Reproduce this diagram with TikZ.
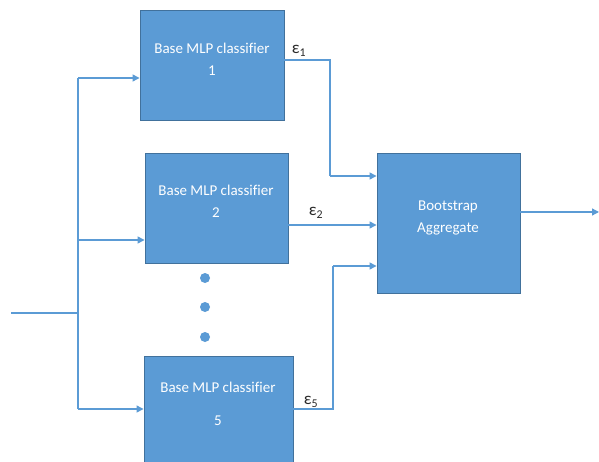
\documentclass[tikz,border=0pt]{standalone}
\usepackage{fontspec}
\setmainfont{Carlito}[Ligatures=NoCommon]
\usetikzlibrary{arrows.meta}
\definecolor{boxfill}{HTML}{5B9BD5}
\definecolor{boxline}{HTML}{41719C}
\definecolor{wire}{HTML}{5B9BD5}
\definecolor{lbl}{HTML}{2A2A2A}
\tikzset{
  mlp/.style={draw=boxline, line width=0.9pt, fill=boxfill, inner sep=0pt},
  boxtext/.style={text=white, font=\fontsize{15}{22}\selectfont, align=center, inner sep=0pt},
  wireline/.style={draw=wire, line width=1.3pt},
  arr/.style={wireline, -{Triangle[length=7pt,width=7pt]}},
  eps/.style={text=lbl, font=\fontsize{17}{20}\selectfont, inner sep=0pt},
  dotmark/.style={circle, fill=boxfill, inner sep=0pt, minimum width=8pt, minimum height=10pt}
}
\begin{document}
\begin{tikzpicture}[x=1pt,y=-1pt]
\useasboundingbox (0,0) rectangle (599,462);
\clip (0,0) rectangle (599,462);
% boxes
\node[mlp, minimum width=144pt, minimum height=110pt] (box1) at (212,65) {};
\node[mlp, minimum width=143pt, minimum height=110pt] (box2) at (216.5,208) {};
\node[mlp, minimum width=149pt, minimum height=110pt] (box5) at (218.5,411) {};
\node[mlp, minimum width=143pt, minimum height=140pt] (agg) at (448.5,223) {};
% texts
\node[boxtext] (t1) at (212,59) {Base MLP classifier\\1};
\node[boxtext] (t2) at (216,201) {Base MLP classifier\\2};
\node[boxtext] (t5) at (218,403.5) {Base MLP classifier\\[11pt]5};
\node[boxtext] (ta) at (448,217.5) {Bootstrap\\Aggregate};
% dots
\node[dotmark] (d1) at (205,278) {};
\node[dotmark] (d2) at (205,307) {};
\node[dotmark] (d3) at (205,337) {};
% input wiring
\coordinate (in) at (11,313);
\coordinate (jin) at (78,313);
\coordinate (j1) at (78,78);
\coordinate (j2) at (78,240);
\coordinate (j5) at (78,409);
\draw[wireline] (in) -- (jin);
\draw[wireline] (j1) -- (j5);
\draw[arr] (j1) -- (j1 -| box1.west);
\draw[arr] (j2) -- (j2 -| box2.west);
\draw[arr] (j5) -- (j5 -| box5.west);
% outputs to aggregate
\coordinate (k1) at (330,60);
\coordinate (k1b) at (330,176);
\draw[wireline] (k1 -| box1.east) -- (k1) -- (k1b);
\draw[arr] (k1b) -- (k1b -| agg.west);
\coordinate (k2) at (330,225);
\draw[arr] (k2 -| box2.east) -- (k2 -| agg.west);
\coordinate (k5) at (333,409);
\coordinate (k5b) at (333,266);
\draw[wireline] (k5 -| box5.east) -- (k5) -- (k5b);
\draw[arr] (k5b) -- (k5b -| agg.west);
\coordinate (out) at (599,212);
\draw[arr] (agg.east |- out) -- (out);
% labels
\node[eps] (e1) at (299,51) {ε\textsubscript{1}};
\node[eps] (e2) at (316,213) {ε\textsubscript{2}};
\node[eps] (e5) at (311,402) {ε\textsubscript{5}};
\end{tikzpicture}
\end{document}
